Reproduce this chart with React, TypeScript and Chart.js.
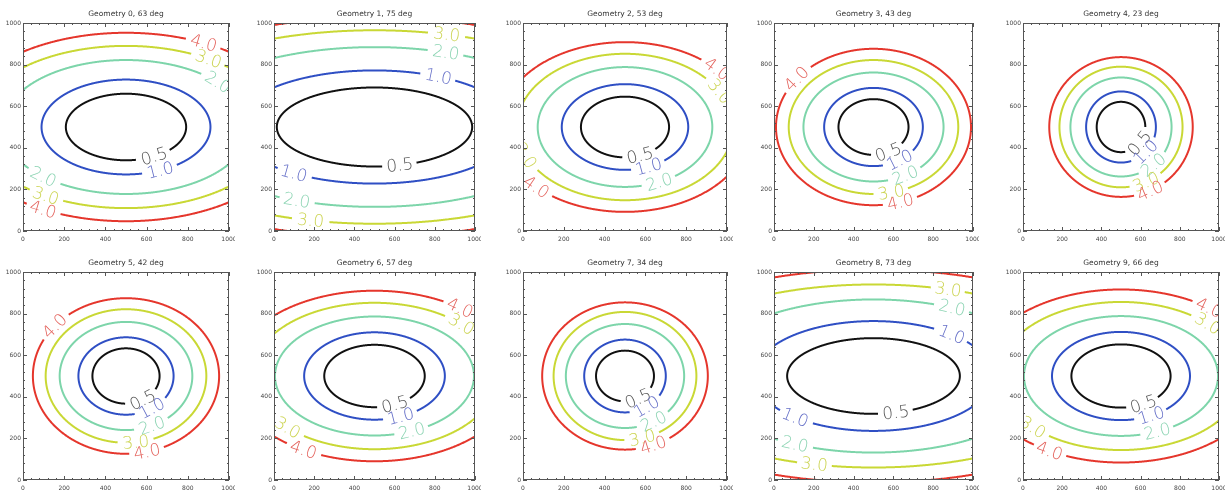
import React, { useEffect, useRef } from 'react';
import { Chart, registerables } from 'chart.js';

Chart.register(...registerables);

// ---------- data ----------
const geometryIds = [0, 1, 2, 3, 4, 5, 6, 7, 8, 9];
const viewAngles = [63, 75, 53, 43, 23, 42, 57, 34, 73, 66];
const contourLevels = [0.5, 1.0, 2.0, 3.0, 4.0];
const contourLabels = ['0.5', '1.0', '2.0', '3.0', '4.0'];
const axisTickValues = [0, 200, 400, 600, 800, 1000];
const ellipseCenter = [500, 500];

// semi-axes (data units) of each contour level, per geometry
const g0SemiX = [292, 410, 600, 735, 830];
const g0SemiY = [160, 228, 322, 390, 453];
const g1SemiX = [486, 700, 990, 1230, 1350];
const g1SemiY = [190, 272, 384, 465, 528];
const g2SemiX = [216, 310, 428, 530, 615];
const g2SemiY = [146, 206, 288, 352, 408];
const g3SemiX = [176, 248, 352, 426, 490];
const g3SemiY = [134, 188, 262, 322, 376];
const g4SemiX = [124, 178, 258, 314, 366];
const g4SemiY = [121, 171, 238, 290, 336];
const g5SemiX = [163, 231, 322, 390, 452];
const g5SemiY = [133, 186, 260, 321, 374];
const g6SemiX = [250, 350, 495, 612, 708];
const g6SemiY = [150, 210, 286, 352, 410];
const g7SemiX = [142, 200, 290, 350, 406];
const g7SemiY = [122, 175, 250, 308, 354];
const g8SemiX = [434, 600, 869, 1150, 1320];
const g8SemiY = [182, 264, 368, 440, 512];
const g9SemiX = [253, 352, 495, 625, 730];
const g9SemiY = [152, 212, 288, 356, 416];

const semiX = [g0SemiX, g1SemiX, g2SemiX, g3SemiX, g4SemiX, g5SemiX, g6SemiX, g7SemiX, g8SemiX, g9SemiX];
const semiY = [g0SemiY, g1SemiY, g2SemiY, g3SemiY, g4SemiY, g5SemiY, g6SemiY, g7SemiY, g8SemiY, g9SemiY];

// ---------- label placement (level index, angle on contour in degrees) ----------
const g0LabelAt = [[0, -62], [1, -66], [2, -132], [3, -122], [4, -119], [4, 63], [3, 57], [2, 42]];
const g1LabelAt = [[0, -75], [1, 63], [1, -125], [2, 69], [2, -113], [3, 73], [3, -105]];
const g2LabelAt = [[0, -70], [1, -68], [2, -67], [3, -157], [4, -135], [4, 43], [3, 29]];
const g3LabelAt = [[0, -65], [1, -58], [2, -63], [3, -78], [4, -74], [4, 142]];
const g4LabelAt = [[0, -40], [1, -45], [2, -50], [3, -66], [4, -66]];
const g5LabelAt = [[0, -60], [1, -57], [2, -67], [3, -83], [4, -77], [4, 140]];
const g6LabelAt = [[0, -66], [1, -68], [2, -68], [3, -135], [4, -120], [4, 53], [3, 45]];
const g7LabelAt = [[0, -63], [1, -58], [2, -61], [3, -76], [4, -70]];
const g8LabelAt = [[0, -75], [1, 49], [1, -131], [2, 63], [2, -117], [3, 71], [3, -105]];
const g9LabelAt = [[0, -63], [1, -64], [2, -68], [3, -136], [4, -120], [4, 52], [3, 45]];
const labelAt = [g0LabelAt, g1LabelAt, g2LabelAt, g3LabelAt, g4LabelAt, g5LabelAt, g6LabelAt, g7LabelAt, g8LabelAt, g9LabelAt];

// ---------- styles ----------
const lineColors = ['#111111', '#2f4fc4', '#7dd5aa', '#c9d835', '#e5362c'];
const labelColors = ['#555555', '#6670c8', '#8cd4b3', '#ccd452', '#e4645e'];
const plotLefts = [23, 274, 523, 774, 1023];
const plotRights = [229, 475, 727, 973, 1219];
const plotTops = [23, 272];
const plotBottoms = [231, 480];
const Y_AXIS_W = 22;
const TOP_PAD = 23;
const RIGHT_PAD = 6;
const X_AXIS_H = 16;
const GAP_UNITS = 85;
const LABEL_FONT = '200 17px "DejaVu Sans"';

function ellipsePoints(rx: number, ry: number, gapAngles: number[]) {
  const pts: { x: number; y: number | null }[] = [];
  const N = 720;
  for (let k = 0; k <= N; k++) {
    const t = (k / N) * Math.PI * 2;
    let inGap = false;
    for (const g of gapAngles) {
      const gt = (g * Math.PI) / 180;
      const half = GAP_UNITS / Math.hypot(rx * Math.sin(gt), ry * Math.cos(gt));
      const d = Math.atan2(Math.sin(t - gt), Math.cos(t - gt));
      if (Math.abs(d) < half) inGap = true;
    }
    const x = ellipseCenter[0] + rx * Math.cos(t);
    const y = ellipseCenter[1] + ry * Math.sin(t);
    pts.push({ x, y: inGap ? null : y });
  }
  return pts;
}

function Panel({ index }: { index: number }) {
  const ref = useRef<HTMLCanvasElement | null>(null);
  const col = index % 5;
  const row = Math.floor(index / 5);
  const left = plotLefts[col] - Y_AXIS_W;
  const top = plotTops[row] - TOP_PAD;
  const width = plotRights[col] - plotLefts[col] + Y_AXIS_W + RIGHT_PAD;
  const height = plotBottoms[row] - plotTops[row] + TOP_PAD + X_AXIS_H;

  useEffect(() => {
    const canvas = ref.current;
    if (!canvas) return;
    const rxs = semiX[index];
    const rys = semiY[index];
    const labels = labelAt[index];
    const title = `Geometry ${geometryIds[index]}, ${viewAngles[index]} deg`;

    const datasets = contourLevels.map((lvl, li) => {
      const gaps = labels.filter((l) => l[0] === li).map((l) => l[1]);
      return {
        label: String(lvl),
        data: ellipsePoints(rxs[li], rys[li], gaps),
        showLine: true,
        borderColor: lineColors[li],
        borderWidth: 2,
        pointRadius: 0,
        tension: 0.0001,
        capBezierPoints: false,
        spanGaps: false,
        clip: 0,
      };
    });

    const framePlugin = {
      id: 'idlFrame',
      afterDatasetsDraw(chart: any) {
        const { ctx, chartArea, scales } = chart;
        const { left: L, right: R, top: T, bottom: B } = chartArea;
        const xs = scales.x;
        const ys = scales.y;
        // contour labels
        ctx.save();
        ctx.beginPath();
        ctx.rect(L, T, R - L, B - T);
        ctx.clip();
        ctx.font = LABEL_FONT;
        ctx.textAlign = 'center';
        ctx.textBaseline = 'middle';
        for (const [li, deg] of labels) {
          const t = (deg * Math.PI) / 180;
          const rx = rxs[li];
          const ry = rys[li];
          const dx = ellipseCenter[0] + rx * Math.cos(t);
          const dy = ellipseCenter[1] + ry * Math.sin(t);
          const px = xs.getPixelForValue(dx);
          const py = ys.getPixelForValue(dy);
          const kx = xs.getPixelForValue(1000) - xs.getPixelForValue(0);
          const ky = ys.getPixelForValue(1000) - ys.getPixelForValue(0);
          const tx = (-rx * Math.sin(t) * kx) / 1000;
          const ty = (ry * Math.cos(t) * ky) / 1000;
          let ang = Math.atan2(ty, tx);
          if (ang > Math.PI / 2) ang -= Math.PI;
          if (ang < -Math.PI / 2) ang += Math.PI;
          ctx.save();
          ctx.translate(px, py);
          ctx.rotate(ang);
          ctx.fillStyle = labelColors[li];
          ctx.fillText(contourLabels[li], 0, 1);
          ctx.restore();
        }
        ctx.restore();

        // frame and inward ticks
        ctx.save();
        ctx.strokeStyle = '#555555';
        ctx.lineWidth = 1;
        ctx.strokeRect(Math.round(L) + 0.5, Math.round(T) + 0.5, Math.round(R - L) - 1, Math.round(B - T) - 1);
        ctx.beginPath();
        for (let v = 0; v <= 1000; v += 40) {
          const len = v % 200 === 0 ? 4 : 2;
          const px = Math.round(xs.getPixelForValue(v)) + 0.5;
          const py = Math.round(ys.getPixelForValue(v)) + 0.5;
          ctx.moveTo(px, B);
          ctx.lineTo(px, B - len);
          ctx.moveTo(px, T);
          ctx.lineTo(px, T + len);
          ctx.moveTo(L, py);
          ctx.lineTo(L + len, py);
          ctx.moveTo(R, py);
          ctx.lineTo(R - len, py);
        }
        ctx.stroke();
        // title
        ctx.fillStyle = '#333333';
        ctx.font = '7.5px "DejaVu Sans"';
        ctx.textAlign = 'center';
        ctx.textBaseline = 'middle';
        ctx.fillText(title, (L + R) / 2, T - 9);
        ctx.restore();
      },
    };

    const tickFont = { size: 6, family: '"DejaVu Sans"' };
    const fmt = (v: any) => String(v);
    const chart = new Chart(canvas, {
      type: 'scatter',
      data: { datasets } as any,
      options: {
        animation: false,
        responsive: false,
        maintainAspectRatio: false,
        events: [],
        elements: { line: { capBezierPoints: false } },
        layout: { padding: { top: TOP_PAD, right: RIGHT_PAD, left: 0, bottom: 0 } },
        plugins: { legend: { display: false }, tooltip: { enabled: false }, title: { display: false } },
        scales: {
          x: {
            type: 'linear',
            min: 0,
            max: 1000,
            afterBuildTicks: (s: any) => {
              s.ticks = axisTickValues.map((v) => ({ value: v }));
            },
            ticks: { font: tickFont, color: '#444444', padding: 5, maxRotation: 0, autoSkip: false, callback: fmt },
            grid: { display: false, drawTicks: false },
            border: { display: false },
            afterFit: (s: any) => {
              s.height = X_AXIS_H;
              s.paddingLeft = 0;
              s.paddingRight = 0;
            },
          },
          y: {
            type: 'linear',
            min: 0,
            max: 1000,
            afterBuildTicks: (s: any) => {
              s.ticks = axisTickValues.map((v) => ({ value: v }));
            },
            ticks: { font: tickFont, color: '#444444', padding: 2, autoSkip: false, callback: fmt },
            grid: { display: false, drawTicks: false },
            border: { display: false },
            afterFit: (s: any) => {
              s.width = Y_AXIS_W;
              s.paddingTop = 0;
              s.paddingBottom = 0;
            },
          },
        },
      } as any,
      plugins: [framePlugin],
    });
    return () => chart.destroy();
  }, [index]);

  return (
    <div style={{ position: 'absolute', left, top, width, height }}>
      <canvas ref={ref} width={width} height={height} style={{ width, height, display: 'block' }} />
    </div>
  );
}

export default function App() {
  return (
    <div style={{ position: 'absolute', left: 0, top: 0, width: 1231, height: 496, background: '#ffffff', overflow: 'hidden' }}>
      {geometryIds.map((g) => (
        <Panel key={g} index={g} />
      ))}
    </div>
  );
}
